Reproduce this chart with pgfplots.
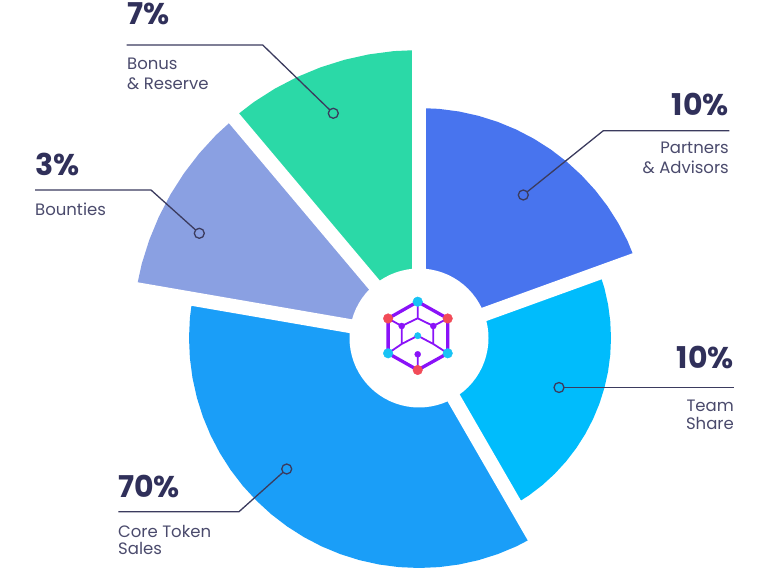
\documentclass[border=0pt]{standalone}
\usepackage{pgfplots}
\pgfplotsset{compat=1.18}
\usepgfplotslibrary{polar}
\usepackage{fontspec}
\setmainfont{Poppins}

\definecolor{partners}{HTML}{4874EE}
\definecolor{team}{HTML}{00BCFC}
\definecolor{core}{HTML}{1A9EF8}
\definecolor{bounties}{HTML}{8AA0E2}
\definecolor{bonus}{HTML}{2BD9A7}
\definecolor{lead}{HTML}{3B3B5E}
\definecolor{pct}{HTML}{30305A}
\definecolor{lbl}{HTML}{4A4A6C}
\definecolor{logoviolet}{HTML}{8A12F8}
\definecolor{dotred}{HTML}{F24B58}
\definecolor{dotcyan}{HTML}{18C3F5}

\begin{document}
\begin{tikzpicture}
\begin{axis}[name=ax, width=770bp, height=570bp, scale only axis, hide axis, clip=false,
  xmin=-419, xmax=351, ymin=-232, ymax=338]

% wedges (angle, radius), center of pie at origin
\addplot[fill=partners, draw=none, data cs=polar] coordinates {(0,0) (19.9,230) (25,230) (30,230) (35,230) (40,230) (45,230) (50,230) (55,230) (60,230) (65,230) (70,230) (75,230) (80,230) (85,230) (90,230)};
\addplot[fill=team, draw=none, data cs=polar] coordinates {(0,0) (-60,192) (-55,192) (-50,192) (-45,192) (-40,192) (-35,192) (-30,192) (-25,192) (-20,192) (-15,192) (-10,192) (-5,192) (0,192) (5,192) (10,192) (15,192) (19.9,192)};
\addplot[fill=core, draw=none, data cs=polar] coordinates {(0,0) (170.2,230) (175,230) (180,230) (185,230) (190,230) (195,230) (200,230) (205,230) (210,230) (215,230) (220,230) (225,230) (230,230) (235,230) (240,230) (245,230) (250,230) (255,230) (260,230) (265,230) (270,230) (275,230) (280,230) (285,230) (290,230) (295,230) (300,230)};
\addplot[fill=bounties, draw=none, data cs=polar] coordinates {(0,0) (130.1,287) (135,287) (140,287) (145,287) (150,287) (155,287) (160,287) (165,287) (170.2,287)};
\addplot[fill=bonus, draw=none, data cs=polar] coordinates {(0,0) (90,288) (95,288) (100,288) (105,288) (110,288) (115,288) (120,288) (125,288) (130.1,288)};

% white gaps between wedges
\addplot[white, line width=14bp, data cs=polar] coordinates {(90,0) (90,293)};
\addplot[white, line width=14bp, data cs=polar] coordinates {(19.9,0) (19.9,235)};
\addplot[white, line width=14bp, data cs=polar] coordinates {(-60,0) (-60,235)};
\addplot[white, line width=14bp, data cs=polar] coordinates {(170.2,0) (170.2,292)};
\addplot[white, line width=14bp, data cs=polar] coordinates {(130.1,0) (130.1,293)};
% hole
\addplot[fill=white, draw=none, data cs=polar] coordinates {(0,69.5) (5,69.5) (10,69.5) (15,69.5) (20,69.5) (25,69.5) (30,69.5) (35,69.5) (40,69.5) (45,69.5) (50,69.5) (55,69.5) (60,69.5) (65,69.5) (70,69.5) (75,69.5) (80,69.5) (85,69.5) (90,69.5) (95,69.5) (100,69.5) (105,69.5) (110,69.5) (115,69.5) (120,69.5) (125,69.5) (130,69.5) (135,69.5) (140,69.5) (145,69.5) (150,69.5) (155,69.5) (160,69.5) (165,69.5) (170,69.5) (175,69.5) (180,69.5) (185,69.5) (190,69.5) (195,69.5) (200,69.5) (205,69.5) (210,69.5) (215,69.5) (220,69.5) (225,69.5) (230,69.5) (235,69.5) (240,69.5) (245,69.5) (250,69.5) (255,69.5) (260,69.5) (265,69.5) (270,69.5) (275,69.5) (280,69.5) (285,69.5) (290,69.5) (295,69.5) (300,69.5) (305,69.5) (310,69.5) (315,69.5) (320,69.5) (325,69.5) (330,69.5) (335,69.5) (340,69.5) (345,69.5) (350,69.5) (355,69.5)};

% logo
\addplot[logoviolet, line width=1.8bp, unbounded coords=jump] coordinates {
 (-1.3,36.3) (-1.3,19.7) (-17.3,12) (-30.9,19.5) (nan,nan)
 (-1.3,19.7) (14.3,12) (28.7,19.5) (nan,nan)
 (-17.3,12) (-17.3,-6) (-30.9,-15.3) (nan,nan)
 (14.3,12) (14.3,-6) (28.7,-15.3) (nan,nan)
 (-17.3,-6) (-1.3,2.3) (14.3,-6) (nan,nan)
 (-1.3,-16.3) (-1.3,-32)};
\addplot[logoviolet, line width=3.3bp, line join=round] coordinates {(-1.3,36.3) (28.7,19.5) (28.7,-15.3) (-1.3,-32) (-30.9,-15.3) (-30.9,19.5) (-1.3,36.3)};
\addplot[dotcyan, only marks, mark=*, mark size=4.8bp] coordinates {(-1.3,36.3) (28.7,-15.3) (-30.9,-15.3)};
\addplot[dotred, only marks, mark=*, mark size=4.8bp] coordinates {(28.7,19.5) (-1.3,-32) (-30.9,19.5)};
\addplot[logoviolet, only marks, mark=*, mark size=3bp] coordinates {(-17.3,12) (14.3,12) (-1.3,-16.3)};
\addplot[dotcyan, only marks, mark=*, mark size=3.2bp] coordinates {(-1.3,2.3)};

% leader lines
\addplot[lead, line width=1.3bp, mark=*, mark indices={3}, mark size=5bp, mark options={fill=bonus}] coordinates {(-292.3,293) (-156.3,293) (-85.7,224.7)};
\addplot[lead, line width=1.3bp, mark=*, mark indices={3}, mark size=5bp, mark options={fill=partners}] coordinates {(310.3,207.3) (184.3,207.3) (104.3,143)};
\addplot[lead, line width=1.3bp, mark=*, mark indices={3}, mark size=5bp, mark options={fill=bounties}] coordinates {(-384,148) (-268,148) (-219.7,104.7)};
\addplot[lead, line width=1.3bp, mark=*, mark indices={1}, mark size=5bp, mark options={fill=team}] coordinates {(140,-49.5) (315,-49.5)};
\addplot[lead, line width=1.3bp, mark=*, mark indices={3}, mark size=5bp, mark options={fill=core}] coordinates {(-300.7,-173.7) (-180,-173.7) (-132.3,-131)};

% labels
\tikzset{pc/.style={inner sep=0, text=pct, font=\fontsize{30bp}{36bp}\selectfont\bfseries},
         lb/.style={inner sep=0, text=lbl, font=\fontsize{16.5bp}{20bp}\selectfont}}
\node[pc, anchor=base west] at (-292,313) {7\%};
\node[lb, anchor=base west] at (-292,268.7) {Bonus};
\node[lb, anchor=base west] at (-292,248.7) {\& Reserve};

\node[pc, anchor=base east] at (310,222) {10\%};
\node[lb, anchor=base east] at (310,184) {Partners};
\node[lb, anchor=base east] at (310,164) {\& Advisors};

\node[pc, anchor=base west] at (-384,162) {3\%};
\node[lb, anchor=base west] at (-384,122) {Bounties};

\node[pc, anchor=base east] at (315,-30.3) {10\%};
\node[lb, anchor=base east] at (315,-73.7) {Team};
\node[lb, anchor=base east] at (315,-92) {Share};

\node[pc, anchor=base west] at (-301,-159.7) {70\%};
\node[lb, anchor=base west] at (-301,-199.3) {Core Token};
\node[lb, anchor=base west] at (-301,-217) {Sales};
\end{axis}
\pgfresetboundingbox
\path (ax.south west) rectangle (ax.north east);
\end{tikzpicture}
\end{document}
